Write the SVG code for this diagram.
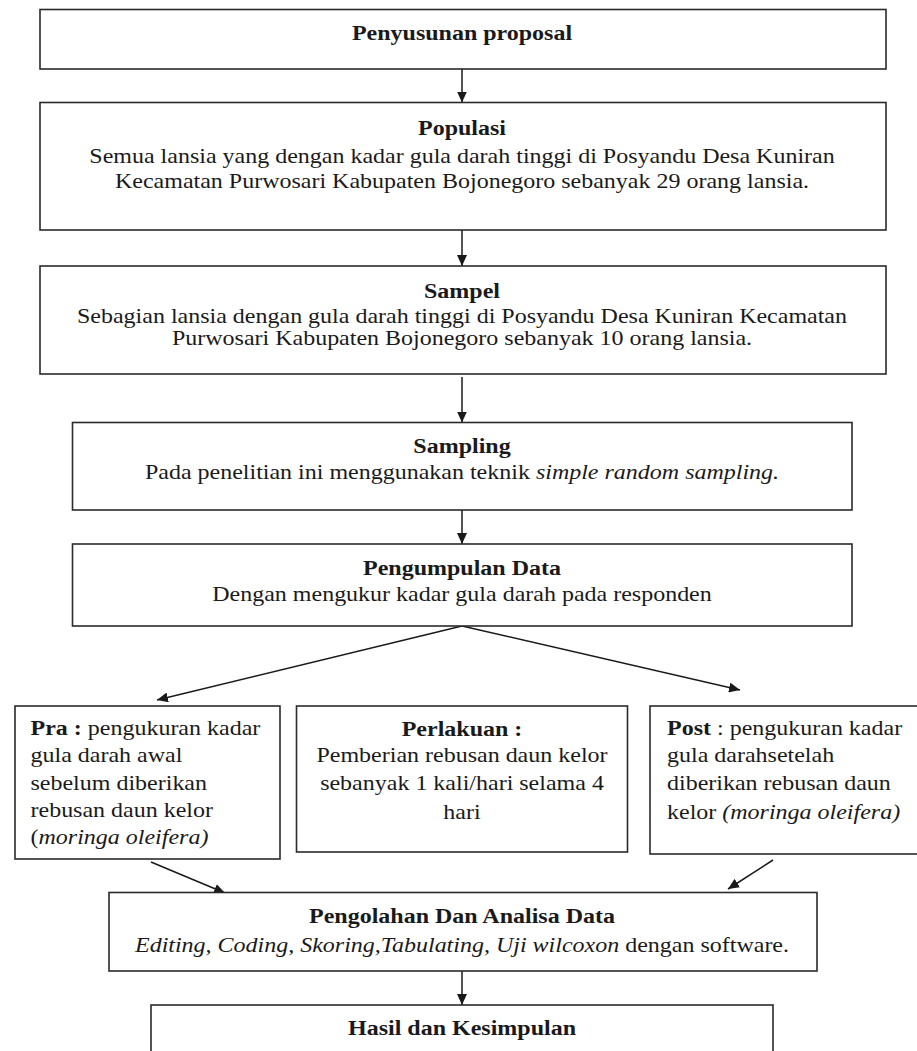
<svg xmlns="http://www.w3.org/2000/svg" width="917" height="1051" viewBox="0 0 917 1051">
<style>
.box{fill:#fff;stroke:#2a2a2a;stroke-width:1.6}
.t{font-family:"Liberation Serif","Times New Roman",serif;font-size:20px;fill:#1a1a1a}
.c{text-anchor:middle}
.b{font-weight:bold}
.i{font-style:italic}
.con{stroke:#1a1a1a;stroke-width:1.5;fill:none;marker-end:url(#ah)}
</style>
<defs>
<marker id="ah" markerUnits="userSpaceOnUse" markerWidth="12" markerHeight="10" refX="11" refY="5" orient="auto">
<path d="M0,0 L11,5 L0,10 Z" fill="#1a1a1a"/>
</marker>
</defs>
<rect width="917" height="1051" fill="#fff"/>

<g id="connectors">
<line class="con" x1="462" y1="69" x2="462" y2="102.5"/>
<line class="con" x1="462" y1="230" x2="462" y2="266"/>
<line class="con" x1="462" y1="377" x2="462" y2="422.5"/>
<line class="con" x1="462" y1="510" x2="462" y2="544"/>
<line class="con" x1="462" y1="626" x2="157" y2="700"/>
<line class="con" x1="462" y1="626" x2="740" y2="690"/>
<line class="con" x1="151" y1="862" x2="225" y2="893"/>
<line class="con" x1="773" y1="860" x2="728" y2="889"/>
<line class="con" x1="462" y1="971" x2="462" y2="1005"/>
</g>

<g id="node-proposal">
<rect class="box" x="40" y="9.5" width="846" height="59.5"/>
<g transform="translate(462,0) scale(1.2,1)"><text class="t c b" x="0" y="40">Penyusunan proposal</text></g>
</g>

<g id="node-populasi">
<rect class="box" x="40" y="102.5" width="846" height="127.5"/>
<g transform="translate(462,0) scale(1.2,1)">
<text class="t c b" x="0" y="135">Populasi</text>
<text class="t c" x="0" y="163">Semua lansia yang dengan kadar gula darah tinggi di Posyandu Desa Kuniran</text>
<text class="t c" x="0" y="188">Kecamatan Purwosari Kabupaten Bojonegoro sebanyak 29 orang lansia.</text>
</g>
</g>

<g id="node-sampel">
<rect class="box" x="40" y="266" width="846" height="108"/>
<g transform="translate(462,0) scale(1.2,1)">
<text class="t c b" x="0" y="298">Sampel</text>
<text class="t c" x="0" y="323">Sebagian lansia dengan gula darah tinggi di  Posyandu Desa Kuniran Kecamatan</text>
<text class="t c" x="0" y="345">Purwosari Kabupaten Bojonegoro sebanyak 10 orang lansia.</text>
</g>
</g>

<g id="node-sampling">
<rect class="box" x="72.5" y="422.5" width="779.5" height="87.5"/>
<g transform="translate(462,0) scale(1.2,1)">
<text class="t c b" x="0" y="453">Sampling</text>
<text class="t c" x="0" y="479">Pada penelitian ini menggunakan teknik <tspan class="i">simple random sampling.</tspan></text>
</g>
</g>

<g id="node-pengumpulan">
<rect class="box" x="72.5" y="544" width="779.5" height="82"/>
<g transform="translate(462,0) scale(1.2,1)">
<text class="t c b" x="0" y="575">Pengumpulan Data</text>
<text class="t c" x="0" y="601">Dengan mengukur kadar gula darah pada responden</text>
</g>
</g>

<g id="node-pra">
<rect class="box" x="15" y="706" width="265" height="153"/>
<g transform="translate(30.5,0) scale(1.2,1)">
<text class="t" x="0" y="735"><tspan class="b">Pra :</tspan> pengukuran kadar</text>
<text class="t" x="0" y="762">gula  darah awal</text>
<text class="t" x="0" y="790">sebelum  diberikan</text>
<text class="t" x="0" y="817">rebusan daun kelor</text>
<text class="t" x="0" y="844">(<tspan class="i">moringa oleifera)</tspan></text>
</g>
</g>

<g id="node-perlakuan">
<rect class="box" x="296.5" y="706" width="331" height="146"/>
<g transform="translate(462,0) scale(1.2,1)">
<text class="t c b" x="0" y="736">Perlakuan :</text>
<text class="t c" x="0" y="762">Pemberian rebusan daun kelor</text>
<text class="t c" x="0" y="790">sebanyak 1 kali/hari  selama 4</text>
<text class="t c" x="0" y="819">hari</text>
</g>
</g>

<g id="node-post">
<rect class="box" x="650" y="706" width="272" height="148"/>
<g transform="translate(667,0) scale(1.2,1)">
<text class="t" x="0" y="735"><tspan class="b">Post</tspan> : pengukuran kadar</text>
<text class="t" x="0" y="762">gula  darahsetelah</text>
<text class="t" x="0" y="790">diberikan  rebusan daun</text>
<text class="t" x="0" y="819">kelor <tspan class="i">(moringa oleifera)</tspan></text>
</g>
</g>

<g id="node-pengolahan">
<rect class="box" x="109" y="892.5" width="708" height="78.5"/>
<g transform="translate(462,0) scale(1.2,1)">
<text class="t c b" x="0" y="923">Pengolahan Dan Analisa Data</text>
<text class="t c" x="0" y="952"><tspan class="i">Editing, Coding, Skoring,Tabulating,  Uji wilcoxon</tspan> dengan software.</text>
</g>
</g>

<g id="node-hasil">
<rect class="box" x="151" y="1005" width="622" height="60"/>
<g transform="translate(462,0) scale(1.2,1)">
<text class="t c b" x="0" y="1035">Hasil dan Kesimpulan</text>
</g>
</g>
</svg>
